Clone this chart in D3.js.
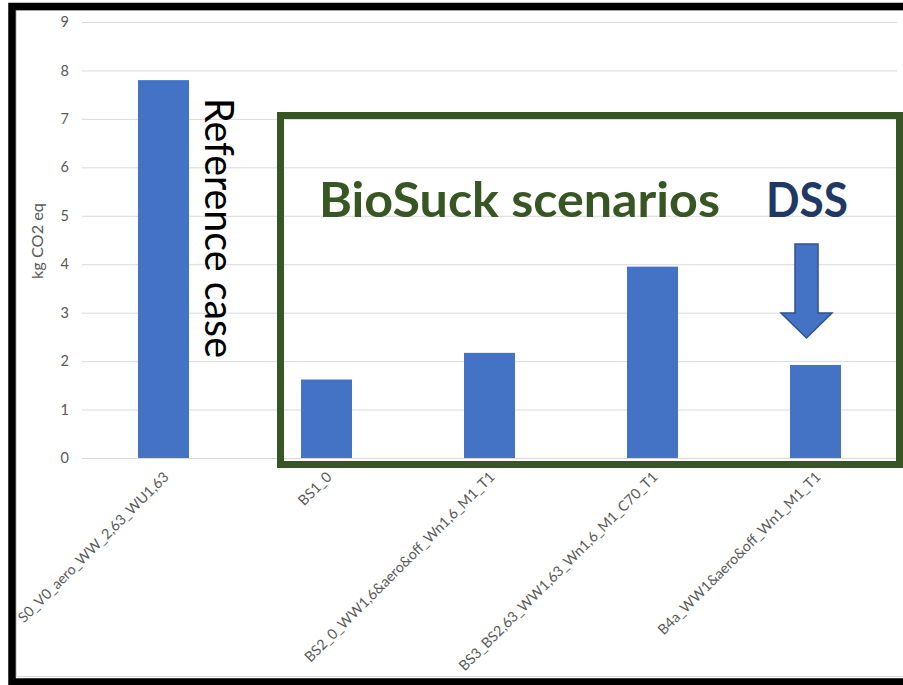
<!DOCTYPE html>
<html>
<head>
<meta charset="utf-8">
<script src="https://cdn.jsdelivr.net/npm/d3@7"></script>
<style>
  body { margin: 0; background: #fff; }
  svg { display: block; }
  text { font-family: "Lato", "Open Sans", sans-serif; }
</style>
</head>
<body>
<svg id="chart" width="903" height="685"></svg>
<script>
// Per-scenario emissions, kg CO2 eq
const categories = [
  "S0_V0_aero_WW_2,63_WU1,63",
  "BS1_0",
  "BS2_0_WW1,6&aero&off_Wn1,6_M1_T1",
  "BS3_BS2,63_WW1,63_Wn1,6_M1_C70_T1",
  "B4a_WW1&aero&off_Wn1_M1_T1"
];
const values = [7.8, 1.62, 2.17, 3.95, 1.92];
const yTicks = [0, 1, 2, 3, 4, 5, 6, 7, 8, 9];
const yTitle = "kg CO2 eq";
const referenceLabel = "Reference case";
const groupLabel = "BioSuck scenarios";
const dssLabel = "DSS";

const svg = d3.select("#chart");
const W = 903, H = 685;
const plot = { left: 82, right: 897, top: 22, bottom: 458 };

const x = d3.scaleBand()
  .domain(categories)
  .range([plot.left, plot.right])
  .paddingInner(0.687)
  .paddingOuter(0.3435);

const y = d3.scaleLinear()
  .domain([0, 9])
  .range([plot.bottom, plot.top]);

// Chart area border (light grey) inside the black frame
svg.append("rect")
  .attr("x", 16.5).attr("y", 10.5)
  .attr("width", W + 20).attr("height", 666)
  .attr("fill", "none").attr("stroke", "#d9d9d9").attr("stroke-width", 1);

// Gridlines and value axis
const yAxis = svg.append("g")
  .attr("transform", `translate(${plot.left},0)`)
  .call(d3.axisLeft(y)
    .tickValues(yTicks)
    .tickSize(-(plot.right - plot.left))
    .tickPadding(13)
    .tickFormat(d3.format("d")));
yAxis.select(".domain").remove();
yAxis.selectAll(".tick line").attr("stroke", "#d9d9d9").attr("stroke-width", 1);
yAxis.selectAll(".tick text")
  .attr("fill", "#595959")
  .style("font-size", "14.5px");

// Value-axis title
svg.append("text")
  .attr("transform", "translate(43,241) rotate(-90)")
  .attr("text-anchor", "middle")
  .attr("fill", "#595959")
  .attr("textLength", 76)
  .attr("lengthAdjust", "spacingAndGlyphs")
  .style("font-size", "14.5px")
  .text(yTitle);

// Bars
svg.append("g")
  .selectAll("rect")
  .data(values)
  .join("rect")
  .attr("x", (d, i) => x(categories[i]))
  .attr("y", d => y(d))
  .attr("width", x.bandwidth())
  .attr("height", d => y(0) - y(d))
  .attr("fill", "#4472c4");

// Category axis with slanted labels
const xAxis = svg.append("g")
  .attr("transform", `translate(0,${plot.bottom})`)
  .call(d3.axisBottom(x).tickSize(0).tickSizeOuter(0));
xAxis.select(".domain").remove();
xAxis.selectAll(".tick text")
  .attr("x", 0).attr("y", 0).attr("dy", 0)
  .attr("transform", "translate(6,20) rotate(-45)")
  .attr("text-anchor", "end")
  .attr("fill", "#595959")
  .style("font-size", "14.3px");

// "Reference case" note beside the first bar
svg.append("text")
  .attr("transform", "translate(205,98) rotate(90)")
  .attr("fill", "#000")
  .attr("textLength", 260)
  .attr("lengthAdjust", "spacingAndGlyphs")
  .style("font-size", "41px")
  .text(referenceLabel);

// Frame around the scenario group
svg.append("rect")
  .attr("x", 280.5).attr("y", 115.5)
  .attr("width", 619).attr("height", 349)
  .attr("fill", "none")
  .attr("stroke", "#375623")
  .attr("stroke-width", 7);

svg.append("text")
  .attr("x", 319).attr("y", 217)
  .attr("fill", "#375623")
  .attr("font-weight", 700)
  .attr("textLength", 401)
  .attr("lengthAdjust", "spacingAndGlyphs")
  .style("font-size", "47px")
  .text(groupLabel);

svg.append("text")
  .attr("x", 766).attr("y", 217)
  .attr("fill", "#203864")
  .attr("font-weight", 700)
  .attr("textLength", 82)
  .attr("lengthAdjust", "spacingAndGlyphs")
  .style("font-size", "47px")
  .text(dssLabel);

// Down arrow pointing at the DSS bar
const ax = 806.5, aTop = 244, aNeck = 313, aTip = 338, shaftHalf = 11.5, headHalf = 25.5;
svg.append("path")
  .attr("d", `M${ax - shaftHalf},${aTop} H${ax + shaftHalf} V${aNeck} H${ax + headHalf} L${ax},${aTip} L${ax - headHalf},${aNeck} H${ax - shaftHalf} Z`)
  .attr("fill", "#4472c4")
  .attr("stroke", "#2f528f")
  .attr("stroke-width", 1.5)
  .attr("stroke-linejoin", "miter");

// Outer black frame (its right side runs past the page edge)
svg.append("rect")
  .attr("x", 12).attr("y", 6.5)
  .attr("width", 920).attr("height", 675.5)
  .attr("fill", "none")
  .attr("stroke", "#000")
  .attr("stroke-width", 7.5);
</script>
</body>
</html>
